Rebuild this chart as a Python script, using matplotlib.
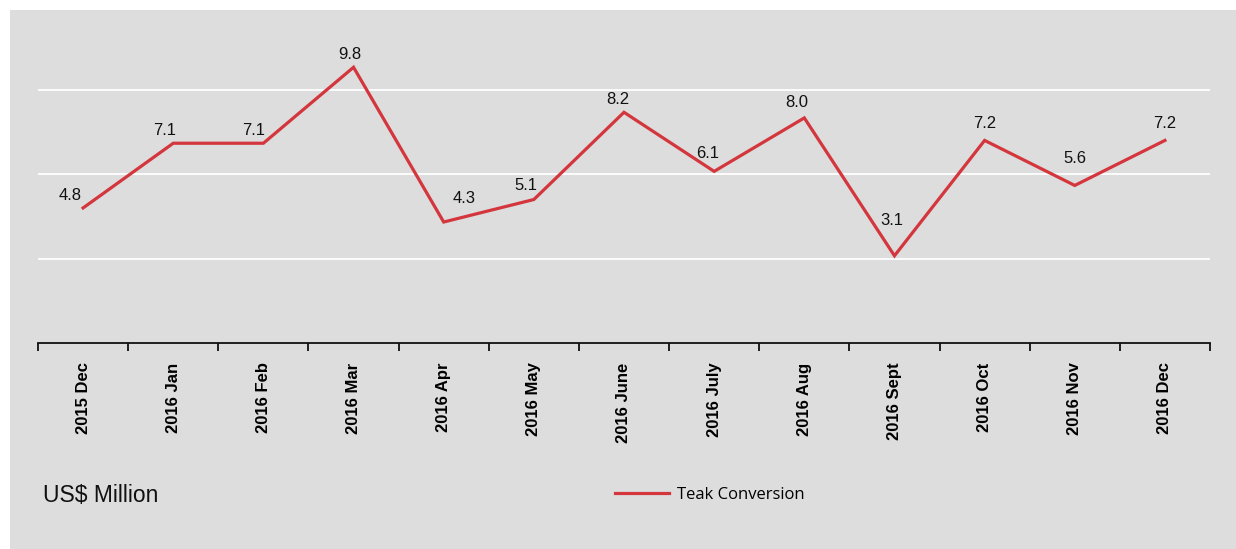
import matplotlib.pyplot as plt
from matplotlib.patches import Rectangle
from matplotlib.lines import Line2D

months = ['2015 Dec', '2016 Jan', '2016 Feb', '2016 Mar', '2016 Apr', '2016 May', '2016 June',
          '2016 July', '2016 Aug', '2016 Sept', '2016 Oct', '2016 Nov', '2016 Dec']
teak = [4.8, 7.1, 7.1, 9.8, 4.3, 5.1, 8.2, 6.1, 8.0, 3.1, 7.2, 5.6, 7.2]
# label offsets in pixels (dx, dy), label centre relative to point
label_offsets = [(-13, 12), (-9, 13), (-10, 13), (-4, 13), (20, 24), (-8, 14), (-6, 13),
                 (-7, 18), (-8, 15), (-3, 35), (0, 17), (0, 27), (0, 17)]

grey = '#dddddd'
red = '#d4363d'

plt.rcParams['font.family'] = ['Liberation Sans', 'DejaVu Sans']

fig = plt.figure(figsize=(12.36, 5.49), dpi=100, facecolor='white')
bg = Rectangle((10 / 1236, 0), 1, (549 - 10) / 549, transform=fig.transFigure,
               facecolor=grey, edgecolor='none', zorder=-10)
fig.add_artist(bg)

ax = fig.add_axes([38 / 1236, (549 - 343) / 549, 1172 / 1236, 332 / 549])
ax.set_zorder(1)
ax.patch.set_alpha(0)

x = range(len(months))
ax.plot(x, teak, color=red, lw=2.3, solid_joinstyle='miter', zorder=3)

for i, v in enumerate(teak):
    dx, dy = label_offsets[i]
    ax.annotate('%.1f' % v, (i, v), xytext=(dx, dy), textcoords='offset pixels',
                ha='center', va='center', fontsize=12, color='#111111')

ax.set_xlim(-0.5, len(months) - 0.5)
ax.set_ylim(0, 11.8)
for g in [3, 6, 9]:
    ax.axhline(g, color='white', lw=1.3, zorder=1)

for s in ['left', 'right', 'top']:
    ax.spines[s].set_visible(False)
ax.spines['bottom'].set_linewidth(1.3)
ax.spines['bottom'].set_color('#111111')

ax.set_yticks([])
ax.set_xticks(list(x))
ax.set_xticklabels(months, rotation=90, fontsize=12, fontweight='bold', va='top')
ax.tick_params(axis='x', which='major', length=0, pad=14)
ax.set_xticks([i - 0.5 for i in range(len(months) + 1)], minor=True)
ax.tick_params(axis='x', which='minor', length=6, width=1.3, color='#111111', direction='out')

fig.text(43 / 1236, 1 - 495 / 549, 'US$ Million', fontsize=16.5, va='center', ha='left', color='#111111')

handle = Line2D([], [], color=red, lw=2.3)
fig.legend([handle], ['Teak Conversion'], loc='center', bbox_to_anchor=(710 / 1236, 1 - 495 / 549),
           frameon=False, prop={'family': 'Open Sans', 'size': 12}, handlelength=3.2, handletextpad=0.5)

fig.savefig('out.png', dpi=100, facecolor='white')
